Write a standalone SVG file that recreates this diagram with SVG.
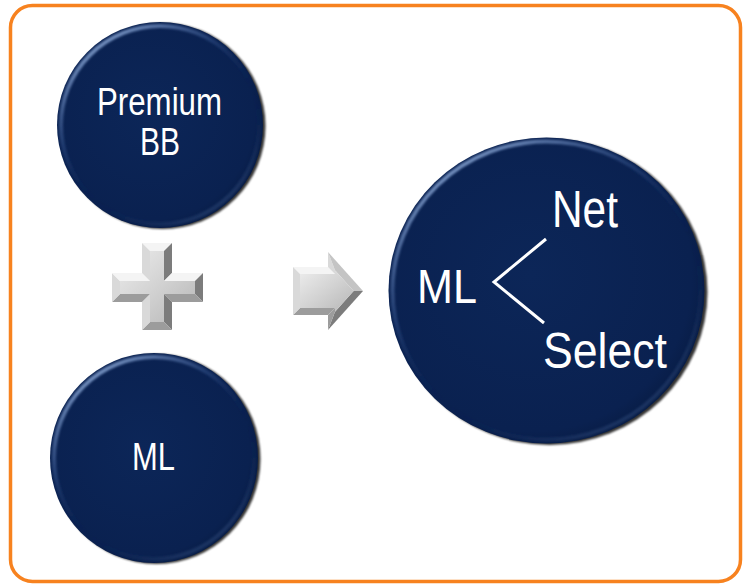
<svg xmlns="http://www.w3.org/2000/svg" width="744" height="585" viewBox="0 0 744 585">
  <style>
    .frame { fill: #ffffff; stroke: #F7821F; stroke-width: 3.5; }
    .ball { fill: url(#ballFill); }
    .rim { fill: none; stroke: url(#rimGrad); stroke-width: 4; filter: url(#soft); }
    .shade { fill: #000000; opacity: 0.8; filter: url(#blur); }
    .lbl { font-family: "Liberation Sans", Arial, sans-serif; fill: #ffffff; }
    .sm { font-size: 38px; }
    .branch { fill: none; stroke: #ffffff; stroke-width: 3; stroke-linecap: butt; stroke-linejoin: miter; }
    .f-top { fill: #f4f4f4; }
    .f-left { fill: #d9d9d9; }
    .f-diag { fill: #c4c4c4; }
    .f-right { fill: #7c7c7c; }
    .f-bottom { fill: #9c9c9c; }
    .face { fill: url(#silver); }
  </style>
  <defs>
    <radialGradient id="ballFill" cx="0.45" cy="0.45" r="0.6">
      <stop offset="0" stop-color="#0c2658"/>
      <stop offset="0.85" stop-color="#0a2150"/>
      <stop offset="1" stop-color="#071a40"/>
    </radialGradient>
    <linearGradient id="rimGrad" x1="0.15" y1="0" x2="0.85" y2="1">
      <stop offset="0" stop-color="#9fbbe6" stop-opacity="0.95"/>
      <stop offset="0.35" stop-color="#3a5a95" stop-opacity="0.4"/>
      <stop offset="0.6" stop-color="#0a2150" stop-opacity="0"/>
      <stop offset="0.92" stop-color="#4a6aa0" stop-opacity="0.3"/>
      <stop offset="1" stop-color="#6f8fc0" stop-opacity="0.45"/>
    </linearGradient>
    <linearGradient id="silver" x1="0" y1="0" x2="1" y2="1">
      <stop offset="0" stop-color="#ececec"/>
      <stop offset="0.5" stop-color="#d2d2d2"/>
      <stop offset="1" stop-color="#b6b6b6"/>
    </linearGradient>
    <filter id="blur" x="-20%" y="-20%" width="140%" height="140%">
      <feGaussianBlur stdDeviation="1.3"/>
    </filter>
    <filter id="soft" x="-10%" y="-10%" width="120%" height="120%">
      <feGaussianBlur stdDeviation="1"/>
    </filter>
  </defs>

  <rect id="frame" class="frame" x="10.5" y="5.5" width="730" height="576" rx="22" ry="22"/>

  <g id="node-premium-bb">
    <ellipse class="shade" cx="162.5" cy="126" rx="103" ry="103"/>
    <ellipse class="ball" cx="160" cy="125" rx="103" ry="103"/>
    <ellipse class="rim" cx="160" cy="125" rx="99" ry="99"/>
    <text class="lbl sm" x="97" y="115" textLength="125" lengthAdjust="spacingAndGlyphs">Premium</text>
    <text class="lbl sm" x="140" y="155" textLength="40" lengthAdjust="spacingAndGlyphs">BB</text>
  </g>

  <g id="node-plus">
    <polygon class="f-top" points="142,243 172,243 164,251 150,251"/>
    <polygon class="f-right" points="172,243 172,273 164,281 164,251"/>
    <polygon class="f-top" points="172,273 203,273 195,281 164,281"/>
    <polygon class="f-right" points="203,273 203,302 195,294 195,281"/>
    <polygon class="f-bottom" points="203,302 172,302 164,294 195,294"/>
    <polygon class="f-right" points="172,302 172,330 164,322 164,294"/>
    <polygon class="f-bottom" points="172,330 142,330 150,322 164,322"/>
    <polygon class="f-left" points="142,330 142,302 150,294 150,322"/>
    <polygon class="f-bottom" points="142,302 112,302 120,294 150,294"/>
    <polygon class="f-left" points="112,302 112,273 120,281 120,294"/>
    <polygon class="f-top" points="112,273 142,273 150,281 120,281"/>
    <polygon class="f-left" points="142,273 142,243 150,251 150,281"/>
    <polygon class="face" points="150,251 164,251 164,281 195,281 195,294 164,294 164,322 150,322 150,294 120,294 120,281 150,281"/>
  </g>

  <g id="node-ml">
    <ellipse class="shade" cx="156.5" cy="459" rx="104" ry="105"/>
    <ellipse class="ball" cx="154" cy="458" rx="104" ry="105"/>
    <ellipse class="rim" cx="154" cy="458" rx="100" ry="101"/>
    <text class="lbl sm" x="132" y="470" textLength="43" lengthAdjust="spacingAndGlyphs">ML</text>
  </g>

  <g id="node-arrow">
    <polygon class="f-top" points="293,267 328,267 335,274 300,274"/>
    <polygon class="f-left" points="328,267 328,252 335,270.3 335,274"/>
    <polygon class="f-diag" points="328,252 363,291 353.6,291 335,270.3"/>
    <polygon class="f-right" points="363,291 328,330 335,311.7 353.6,291"/>
    <polygon class="f-bottom" points="328,330 328,315 335,308 335,311.7"/>
    <polygon class="f-bottom" points="328,315 293,315 300,308 335,308"/>
    <polygon class="f-left" points="293,315 293,267 300,274 300,308"/>
    <polygon class="face" points="300,274 335,274 335,270.3 353.6,291 335,311.7 335,308 300,308"/>
  </g>

  <g id="node-result">
    <ellipse class="shade" cx="549.5" cy="292" rx="158" ry="153"/>
    <ellipse class="ball" cx="546.5" cy="290.5" rx="158" ry="153"/>
    <ellipse class="rim" cx="546.5" cy="290.5" rx="154" ry="149"/>
    <text class="lbl" x="417" y="303" font-size="49" textLength="60" lengthAdjust="spacingAndGlyphs">ML</text>
    <text class="lbl" x="552" y="227" font-size="51" textLength="66" lengthAdjust="spacingAndGlyphs">Net</text>
    <text class="lbl" x="543" y="368" font-size="50" textLength="124" lengthAdjust="spacingAndGlyphs">Select</text>
  </g>

  <g id="connectors">
    <polyline class="branch" points="546,239 494,282 544,323"/>
  </g>
</svg>
